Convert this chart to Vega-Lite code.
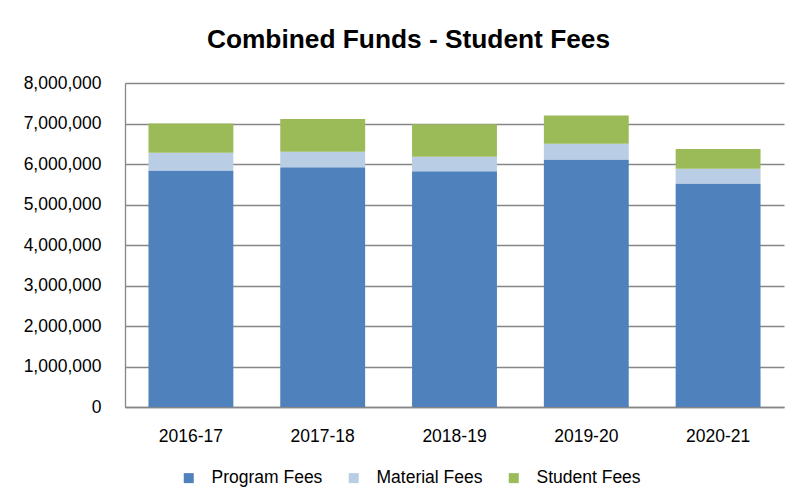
{
  "$schema": "https://vega.github.io/schema/vega-lite/v6.json",
  "autosize": "none",
  "width": 659,
  "height": 324,
  "padding": {"left": 125, "top": 83, "right": 12, "bottom": 94},
  "background": "white",
  "title": {
    "text": "Combined Funds - Student Fees",
    "font": "Liberation Sans",
    "fontSize": 26.3,
    "fontWeight": "bold",
    "color": "#000000",
    "anchor": "middle",
    "frame": "group",
    "dx": -46,
    "baseline": "alphabetic",
    "offset": 0
  },
  "data": {
    "values": [
      {"year": "2016-17", "fund": "Program Fees", "amount": 5840000},
      {"year": "2016-17", "fund": "Material Fees", "amount": 440000},
      {"year": "2016-17", "fund": "Student Fees", "amount": 720000},
      {"year": "2017-18", "fund": "Program Fees", "amount": 5920000},
      {"year": "2017-18", "fund": "Material Fees", "amount": 380000},
      {"year": "2017-18", "fund": "Student Fees", "amount": 810000},
      {"year": "2018-19", "fund": "Program Fees", "amount": 5820000},
      {"year": "2018-19", "fund": "Material Fees", "amount": 360000},
      {"year": "2018-19", "fund": "Student Fees", "amount": 800000},
      {"year": "2019-20", "fund": "Program Fees", "amount": 6110000},
      {"year": "2019-20", "fund": "Material Fees", "amount": 390000},
      {"year": "2019-20", "fund": "Student Fees", "amount": 700000},
      {"year": "2020-21", "fund": "Program Fees", "amount": 5520000},
      {"year": "2020-21", "fund": "Material Fees", "amount": 360000},
      {"year": "2020-21", "fund": "Student Fees", "amount": 490000}
    ]
  },
  "transform": [
    {"calculate": "indexof(['Program Fees', 'Material Fees', 'Student Fees'], datum.fund)", "as": "stackRank"}
  ],
  "mark": {"type": "bar"},
  "encoding": {
    "x": {
      "field": "year",
      "type": "nominal",
      "sort": null,
      "scale": {"paddingInner": 0.356, "paddingOuter": 0.178},
      "axis": {
        "title": null,
        "labelAngle": 0,
        "labelFont": "Liberation Sans",
        "labelFontSize": 17.5,
        "labelColor": "#000000",
        "labelPadding": 20,
        "ticks": false,
        "domainColor": "#868686",
        "domainWidth": 1.3,
        "grid": false
      }
    },
    "y": {
      "field": "amount",
      "type": "quantitative",
      "stack": "zero",
      "scale": {"domain": [0, 8000000], "nice": false},
      "axis": {
        "title": null,
        "values": [0, 1000000, 2000000, 3000000, 4000000, 5000000, 6000000, 7000000, 8000000],
        "format": ",.0f",
        "labelFont": "Liberation Sans",
        "labelFontSize": 17.5,
        "labelColor": "#000000",
        "labelPadding": 24,
        "ticks": false,
        "domainColor": "#868686",
        "domainWidth": 1.3,
        "grid": true,
        "gridColor": "#868686",
        "gridWidth": 1.3
      }
    },
    "order": {"field": "stackRank", "type": "quantitative", "sort": "ascending"},
    "color": {
      "field": "fund",
      "type": "nominal",
      "sort": ["Program Fees", "Material Fees", "Student Fees"],
      "scale": {
        "domain": ["Program Fees", "Material Fees", "Student Fees"],
        "range": ["#4F81BD", "#B9CDE5", "#9BBB59"]
      },
      "legend": {
        "title": null,
        "orient": "none",
        "direction": "horizontal",
        "legendX": 55,
        "legendY": 386,
        "padding": 0,
        "symbolType": "square",
        "symbolSize": 100,
        "symbolStrokeWidth": 0,
        "labelFont": "Liberation Sans",
        "labelFontSize": 17.5,
        "labelColor": "#000000",
        "labelOffset": 14,
        "columnPadding": 22
      }
    }
  },
  "config": {
    "view": {"stroke": null}
  }
}
